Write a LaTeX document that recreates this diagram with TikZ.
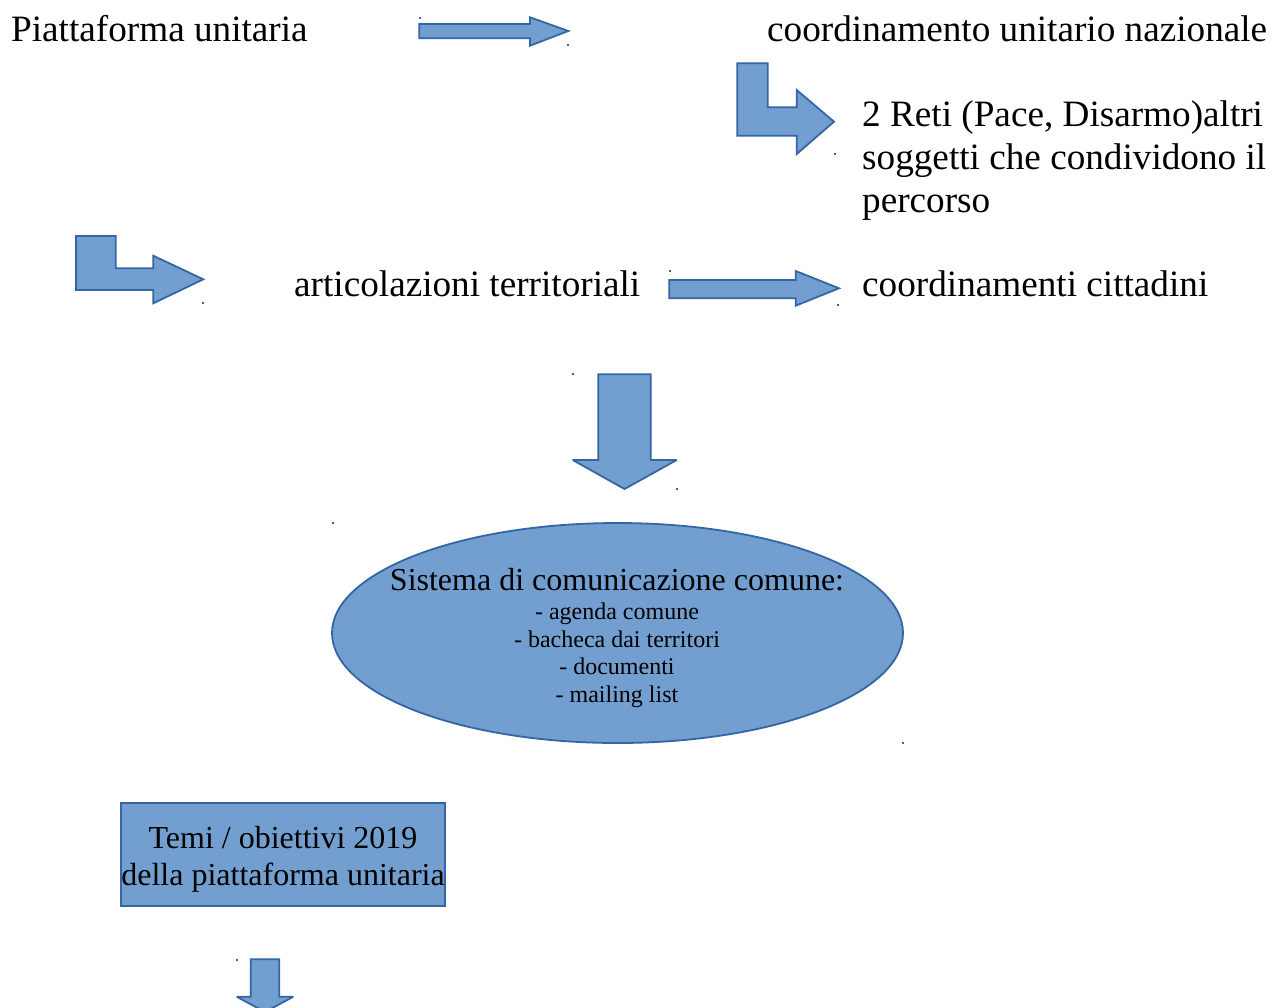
\documentclass[tikz,border=0pt]{standalone}
\usepackage{fontspec}
\setmainfont{Liberation Serif}
\usetikzlibrary{shapes.geometric}
\definecolor{afill}{HTML}{729FCF}
\definecolor{aline}{HTML}{3465A4}
\begin{document}
\begin{tikzpicture}[x=1pt,y=-1pt,
  blockarrow/.style={fill=afill,draw=aline,line width=1.8pt,line join=miter,miter limit=3},
  bigtext/.style={font=\fontsize{37.2}{42.9}\selectfont,inner sep=0pt,anchor=base west,text=black},
  tinydot/.style={fill=aline}]
\clip (0,0) rectangle (1273,1007);
\useasboundingbox (0,0) rectangle (1273,1007);

% texts
\node[bigtext] (piatt) at (11,41) {Piattaforma unitaria};
\node[bigtext] (coord) at (767,41) {coordinamento unitario nazionale};
\node[bigtext] (reti) at (862,126.7) {\begin{tabular}[t]{@{}l@{}}2 Reti (Pace, Disarmo)altri\\soggetti che condividono il\\percorso\end{tabular}};
\node[bigtext] (artic) at (294,296) {articolazioni territoriali};
\node[bigtext] (citt) at (862,296) {coordinamenti cittadini};

% block arrows
\draw[blockarrow] (419.3,24) -- (530,24) -- (530,17.3) -- (568.3,31) -- (530,45.7) -- (530,38.3) -- (419.3,38.3) -- cycle;
\draw[blockarrow] (737.3,63.3) -- (767.7,63.3) -- (767.7,107.3) -- (796.7,107.3) -- (796.7,90) -- (834,121.7) -- (796.7,154) -- (796.7,135.7) -- (737.3,135.7) -- cycle;
\draw[blockarrow] (76,236) -- (115.7,236) -- (115.7,268.3) -- (153.3,268.3) -- (153.3,255.7) -- (203.3,279.3) -- (153.3,303.3) -- (153.3,290) -- (76,290) -- cycle;
\draw[blockarrow] (669.3,280) -- (795.7,280) -- (795.7,271) -- (839,288.3) -- (795.7,305.7) -- (795.7,298.3) -- (669.3,298.3) -- cycle;
\draw[blockarrow] (598.3,374.3) -- (650.7,374.3) -- (650.7,460) -- (676.7,460) -- (624.5,489) -- (572.7,460) -- (598.3,460) -- cycle;
\draw[blockarrow] (250.7,959.3) -- (279.3,959.3) -- (279.3,996.7) -- (293.3,996.7) -- (265,1012) -- (236.7,996.7) -- (250.7,996.7) -- cycle;

% ellipse
\node[ellipse,fill=afill,draw=aline,line width=1.8pt,minimum width=571,minimum height=220,inner sep=0pt] (sys) at (617.5,633) {};
\node[font=\fontsize{24}{27.6}\selectfont,inner sep=0pt,anchor=base,text=black] (systext) at (617,590) {\begin{tabular}[t]{@{}c@{}}{\fontsize{32}{36.8}\selectfont Sistema di comunicazione comune:}\\[2pt]- agenda comune\\- bacheca dai territori\\- documenti\\- mailing list\end{tabular}};

% box
\node[rectangle,fill=afill,draw=aline,line width=1.5pt,minimum width=324,minimum height=103,inner sep=0pt] (temi) at (283,854.5) {};
\node[font=\fontsize{32}{37}\selectfont,inner sep=0pt,anchor=base,text=black] (temitext) at (283,848.3) {\begin{tabular}[t]{@{}c@{}}Temi / obiettivi 2019\\della piattaforma unitaria\end{tabular}};

% small marks
\foreach \px/\py in {420/18,568/45,835/154,203/303,670/271,838/305,573/374,677/489,333/523,903/743,237/960}
  \fill[tinydot] (\px-1,\py-1) rectangle (\px+1,\py+1);
\end{tikzpicture}
\end{document}
